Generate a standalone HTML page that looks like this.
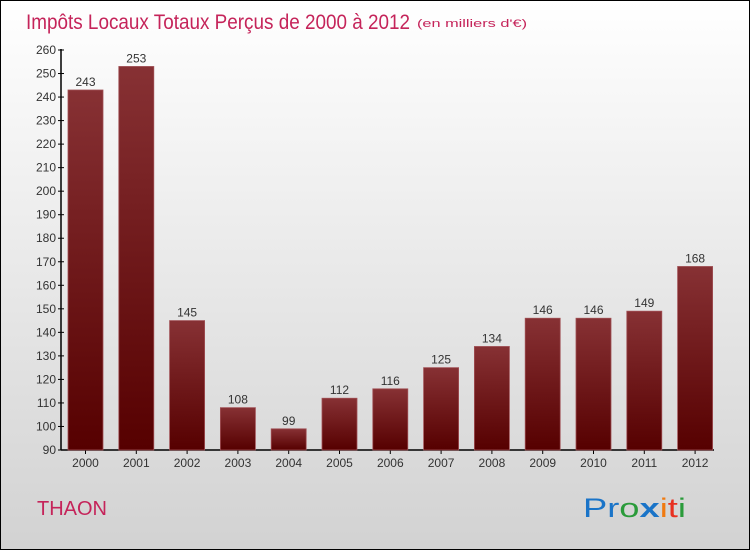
<!DOCTYPE html>
<html><head><meta charset="utf-8"><style>
body{margin:0}
#c{position:relative;width:748px;height:548px;border:1px solid #000;background:linear-gradient(#ffffff,#d2d2d2);font-family:"Liberation Sans","DejaVu Sans",sans-serif;overflow:hidden}
</style></head><body>
<div id="c">
<svg width="748" height="548" id="s">
<defs><linearGradient id="g" x1="0" y1="0" x2="0" y2="1"><stop offset="0" stop-color="#873134"/><stop offset="1" stop-color="#560000"/></linearGradient></defs>
<text x="25" y="28" font-size="21" fill="#c5245a" textLength="384" lengthAdjust="spacingAndGlyphs">Impôts Locaux Totaux Perçus de 2000 à 2012</text>
<text x="416" y="26" font-size="11" fill="#c5245a" textLength="110" lengthAdjust="spacingAndGlyphs">(en milliers d'€)</text>
<text x="36" y="514" font-size="20" fill="#c5245a">THAON</text>
<text x="582" y="516" font-size="27" textLength="103" lengthAdjust="spacingAndGlyphs"><tspan fill="#1a74c8">Pr</tspan><tspan fill="#2a9b3a">o</tspan><tspan fill="#1a74c8" font-weight="bold">x</tspan><tspan fill="#f07a10">i</tspan><tspan fill="#e83020">t</tspan><tspan fill="#2a9b3a">i</tspan></text>
<g id="ax"></g><g id="bars"></g>
</svg></div>
<script>
const years=["2000","2001","2002","2003","2004","2005","2006","2007","2008","2009","2010","2011","2012"];
const values=[243,253,145,108,99,112,116,125,134,146,146,149,168];
const yTicks=[90,100,110,120,130,140,150,160,170,180,190,200,210,220,230,240,250,260];
const NS="http://www.w3.org/2000/svg";
const y=v=>449-(v-90)*400/170;
const x=i=>84.5+i*50.8;
const ax=document.getElementById('ax'),bars=document.getElementById('bars');
function mk(t,a,p){const e=document.createElementNS(NS,t);for(const k in a)e.setAttribute(k,a[k]);p.appendChild(e);return e;}
let l=mk('line',{x1:60,y1:y(260)-1,x2:60,y2:449,stroke:'#000','stroke-width':1.5},ax);


l=mk('line',{x1:60,y1:449,x2:713,y2:449,stroke:'#000','stroke-width':1.5},ax);


yTicks.forEach(v=>{
 const t=mk('line',{x1:57,x2:63,y1:y(v),y2:y(v),stroke:'#000'},ax);
 
 
 const tx=mk('text',{x:55,y:y(v)+4,'text-anchor':'end','font-size':12,fill:'#333'},ax);
 tx.textContent=v;
 
 
});
values.forEach((v,i)=>{
 const r=mk('rect',{x:x(i)-17.5,y:y(v),width:35,height:449-y(v),fill:'url(#g)',stroke:'#a05055','stroke-width':0.8},bars);
 
 
 const t=mk('text',{x:x(i),y:y(v)-4,'text-anchor':'middle','font-size':12,fill:'#333'},bars);
 t.textContent=v;
 
 
 const k=mk('line',{x1:x(i),x2:x(i),y1:449,y2:453,stroke:'#000'},ax);
 
 
 const xl=mk('text',{x:x(i),y:466,'text-anchor':'middle','font-size':12,fill:'#333'},ax);
 xl.textContent=years[i];
 
 
});
</script>
</body></html>
